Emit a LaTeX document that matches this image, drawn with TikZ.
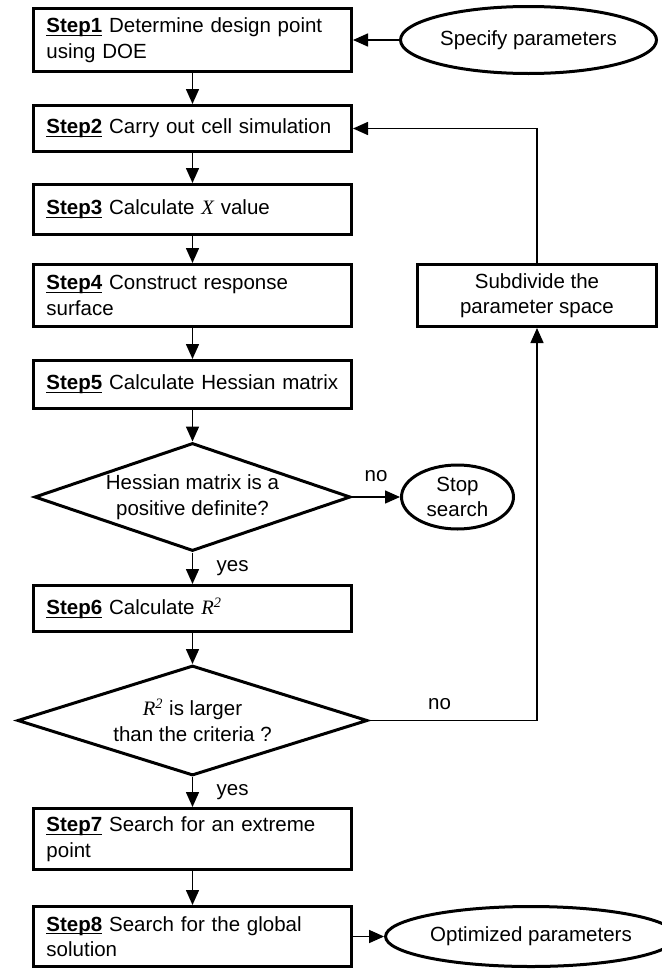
\documentclass[tikz,border=0pt]{standalone}
\usepackage{fontspec}
\setmainfont{Liberation Sans}
\newfontfamily\tmsfont{Liberation Serif}
\usetikzlibrary{positioning, arrows.meta, shapes.geometric}

\newcommand{\stp}[1]{\underline{\raisebox{0pt}[\height][0pt]{\textbf{Step#1}}}}
\newcommand{\mvar}[1]{{\tmsfont\itshape #1}}

\begin{document}
\begin{tikzpicture}[x=0.5pt, y=-0.5pt, font=\fontsize{10.25}{12.8}\selectfont,
    stepbox/.style={draw, line width=1.5pt, minimum width=159pt, text width=146pt,
                    inner xsep=6.5pt, inner ysep=2pt, align=left},
    endbox/.style={draw, ellipse, line width=1.5pt, inner sep=1pt, align=center},
    testbox/.style={draw, diamond, line width=1.5pt, inner sep=0pt, align=center},
    arr/.style={-{Triangle[length=7.5pt, width=6.5pt]}, line width=0.75pt}]

    \useasboundingbox (0,0) rectangle (662,969);

    % Node Placements
    \node[stepbox, minimum height=31.5pt] (s1) at (192.5,40)    {\stp{1} Determine design point\\using DOE};
    \node[stepbox, minimum height=23pt]   (s2) at (192.5,128.5) {\stp{2} Carry out cell simulation};
    \node[stepbox, minimum height=25pt]   (s3) at (192.5,209.5) {\stp{3} Calculate \mvar{X} value};
    \node[stepbox, minimum height=31pt]   (s4) at (192.5,295.5) {\stp{4} Construct response\\surface};
    \node[stepbox, minimum height=24pt]   (s5) at (192.5,384.5) {\stp{5} Calculate Hessian matrix};
    \node[testbox, aspect=2.93, minimum width=158pt, minimum height=54pt] (d1) at (192.5,497)
        {Hessian matrix is a\\positive definite?};
    \node[stepbox, minimum height=23pt]   (s6) at (192.5,608.5) {\stp{6} Calculate \mvar{R\textsuperscript{2}}};
    \node[testbox, aspect=3.18, minimum width=175pt, minimum height=55pt] (d2) at (192.5,720.5)
        {\mvar{R\textsuperscript{2}} is larger\\than the criteria ?};
    \node[stepbox, minimum height=30.5pt] (s7) at (192.5,839)   {\stp{7} Search for an extreme\\point};
    \node[stepbox, minimum height=30pt]   (s8) at (192.5,936.5) {\stp{8} Search for the global\\solution};

    \node[endbox, minimum width=128pt, minimum height=33.5pt] (spec) at (528.5,40)  {Specify parameters};
    \node[endbox, minimum width=56pt, minimum height=32pt]    (stop) at (457.5,497) {Stop\\search};
    \node[endbox, minimum width=127.5pt, minimum height=30pt] (opt)  at (531,936.5) {Optimized parameters};
    \node[draw, line width=1.5pt, minimum width=119.5pt, minimum height=31pt, align=center]
        (sub) at (537,295.5) {Subdivide the\\parameter space};

    % Graph Path Operations
    \path[arr]
    (spec) edge (s1)
    (s1) edge (s2)
    (s2) edge (s3)
    (s3) edge (s4)
    (s4) edge (s5)
    (s5) edge (d1)
    (d1) edge node [above=4pt] {no} (stop)
         edge node [right=8.4pt] {yes} (s6)
    (s6) edge (d2)
    (d2) edge node [right=8.4pt] {yes} (s7)
    (s7) edge (s8)
    (s8) edge (opt);

    \draw[arr] (d2.east) -| node [above=1.75pt, pos=0.21] {no} (sub.south);
    \draw[arr] (sub.north) |- (s2.east);
\end{tikzpicture}
\end{document}
